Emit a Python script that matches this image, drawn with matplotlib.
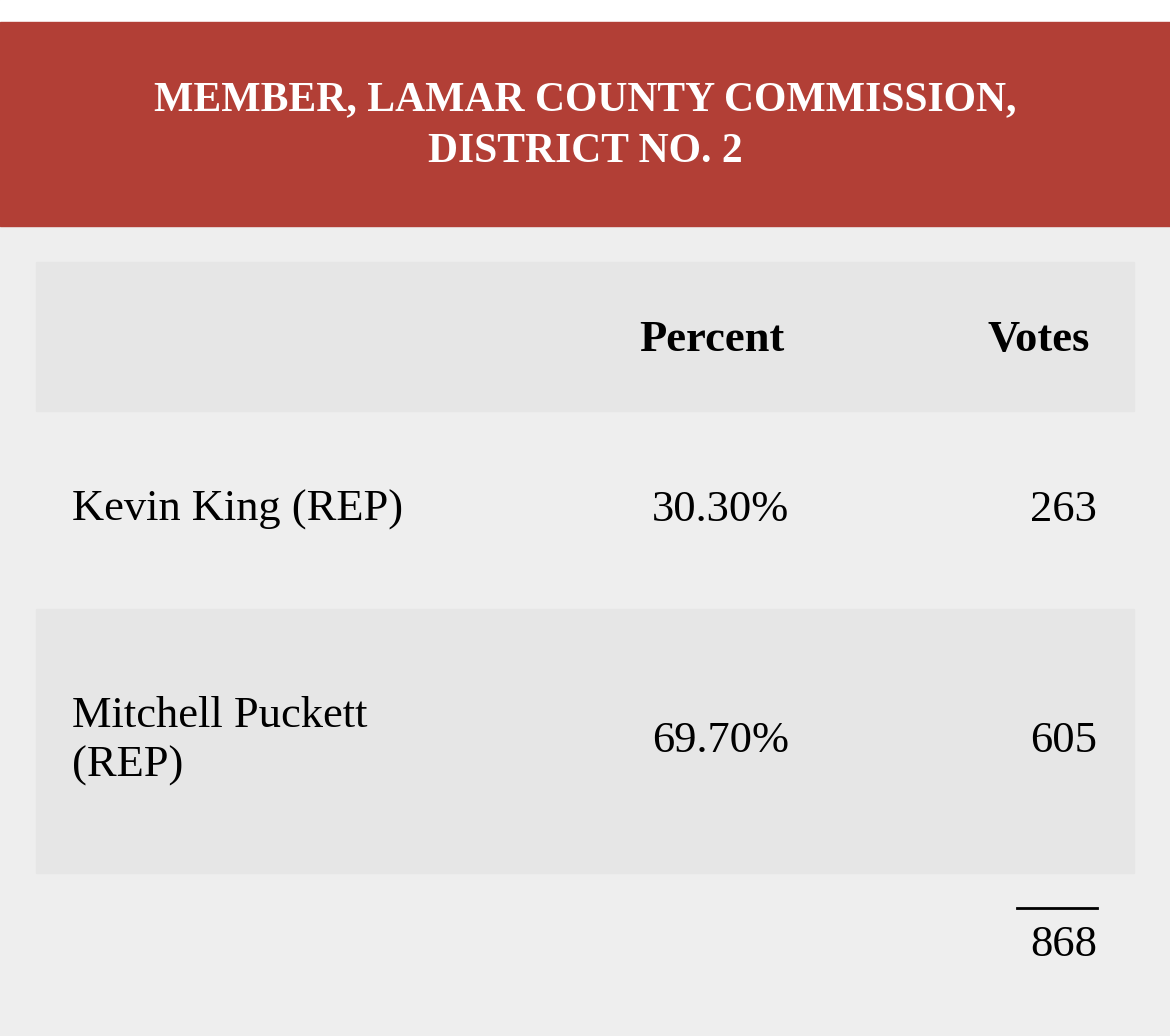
import matplotlib.pyplot as plt
from matplotlib.patches import Rectangle

TITLE = "MEMBER, LAMAR COUNTY COMMISSION,\nDISTRICT NO. 2"
COLUMNS = ["Percent", "Votes"]
CANDIDATES = ["Kevin King (REP)", "Mitchell Puckett\n(REP)"]
PERCENTS = [30.30, 69.70]
VOTES = [263, 605]

RED = "#b23f36"
BG = "#eeeeee"
SHADE = "#e6e6e6"
FONT = ["Liberation Serif", "DejaVu Serif"]

W, H = 1170, 1036
fig = plt.figure(figsize=(W / 100, H / 100), dpi=100)
ax = fig.add_axes([0, 0, 1, 1])
ax.set_xlim(0, W)
ax.set_ylim(H, 0)
ax.axis("off")

ax.add_patch(Rectangle((0, 0), W, H, color=BG))
ax.add_patch(Rectangle((0, 0), W, 22, color="white"))
ax.add_patch(Rectangle((0, 22), W, 204, color=RED))
ax.text(W / 2, 126, TITLE, ha="center", va="center", color="white",
        fontsize=30, fontweight="bold", family=FONT, linespacing=1.45)

# header row
ax.add_patch(Rectangle((36, 262), 1098, 149, color=SHADE))
ax.text(784, 340, COLUMNS[0], ha="right", va="center", fontsize=32,
        fontweight="bold", family=FONT)
ax.text(1090, 340, COLUMNS[1], ha="right", va="center", fontsize=32,
        fontweight="bold", family=FONT)

row_tops = [411, 609]
row_heights = [198, 264]
for i, (name, pct, v) in enumerate(zip(CANDIDATES, PERCENTS, VOTES)):
    top, h = row_tops[i], row_heights[i]
    if i % 2 == 1:
        ax.add_patch(Rectangle((36, top), 1098, h, color=SHADE))
    yc = top + h / 2
    ax.text(72, yc, name, ha="left", va="center", fontsize=32, family=FONT,
            linespacing=1.3)
    ax.text(789, yc, f"{pct:.2f}%", ha="right", va="center", fontsize=32,
            family=FONT)
    ax.text(1097, yc, f"{v}", ha="right", va="center", fontsize=32,
            family=FONT)

ax.plot([1017, 1097], [908, 908], color="black", lw=2)
ax.text(1097, 945, f"{sum(VOTES)}", ha="right", va="center", fontsize=32,
        family=FONT)

fig.savefig("out.png", dpi=100)
